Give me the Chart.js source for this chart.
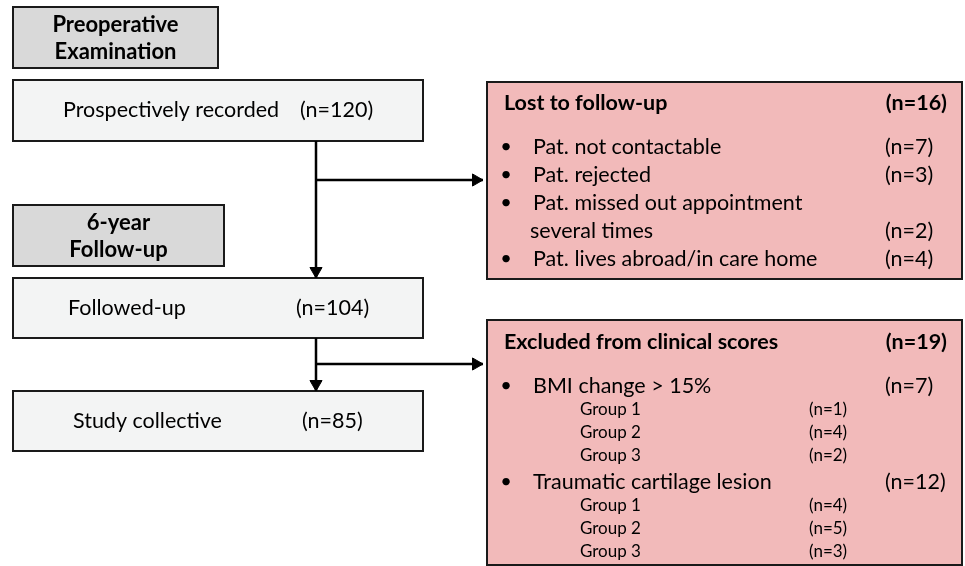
<!DOCTYPE html>
<html>
<head>
<meta charset="utf-8">
<script src="https://cdn.jsdelivr.net/npm/chart.js@4"></script>
<style>
  html, body { margin: 0; padding: 0; background: #ffffff; }
  canvas { display: block; }
</style>
</head>
<body>
<canvas id="flowChart" width="965" height="566"></canvas>
<script>
// Flowchart data
const phaseLabels = [["Preoperative", "Examination"], ["6-year", "Follow-up"]];
const stageLabels = ["Prospectively recorded", "Followed-up", "Study collective"];
const stageCounts = [120, 104, 85];

const lostTitle = "Lost to follow-up";
const lostTotal = 16;
const lostReasons = ["Pat. not contactable", "Pat. rejected", "Pat. missed out appointment|several times", "Pat. lives abroad/in care home"];
const lostCounts = [7, 3, 2, 4];

const excludedTitle = "Excluded from clinical scores";
const excludedTotal = 19;
const excludedReasons = ["BMI change > 15%", "Traumatic cartilage lesion"];
const excludedCounts = [7, 12];
const groupLabels = ["Group 1", "Group 2", "Group 3"];
const bmiGroupCounts = [1, 4, 2];
const traumaGroupCounts = [4, 5, 3];

const FONT = "Lato, 'Open Sans', sans-serif";
const ARROW_R = 7;

// Layout (in chart units, 1 unit = 1 px)
const stageBoxes = [[13, 80, 423, 141], [13, 278, 423, 338], [13, 391, 423, 451]];
const stageTextX = [[63, 300], [68, 296], [73, 302]];
const phaseBoxes = [[13, 7, 218, 68], [13, 205, 224, 266]];
const lostBox = [487, 82, 962, 279];
const excludedBox = [487, 320, 962, 565];

function n(v) { return "(n=" + v + ")"; }

// connectors: [from, to] with arrow at the end
const connectors = [
  [[316, 141], [316, 278]],
  [[316, 180], [483, 180]],
  [[316, 338], [316, 391]],
  [[316, 364], [483, 364]],
];

const lineSets = connectors.map(function (c) {
  return {
    type: "scatter",
    data: c.map(function (p) { return { x: p[0], y: p[1] }; }),
    showLine: true,
    borderColor: "#000000",
    borderWidth: 2.5,
    pointRadius: 0,
  };
});

// arrowheads, placed so the tip hits the end point
const arrowSet = {
  type: "scatter",
  data: connectors.map(function (c) {
    const a = c[0], b = c[1];
    if (a[0] === b[0]) return { x: b[0], y: b[1] - ARROW_R };
    return { x: b[0] - ARROW_R, y: b[1] };
  }),
  pointStyle: "triangle",
  pointRadius: ARROW_R,
  rotation: connectors.map(function (c) { return c[0][0] === c[1][0] ? 180 : 90; }),
  backgroundColor: "#000000",
  borderColor: "#000000",
  borderWidth: 1,
};

const boxPlugin = {
  id: "boxes",
  beforeDatasetsDraw: function (chart) {
    const ctx = chart.ctx;
    const sx = chart.scales.x, sy = chart.scales.y;
    function X(v) { return sx.getPixelForValue(v); }
    function Y(v) { return sy.getPixelForValue(v); }

    function box(b, fill) {
      ctx.save();
      ctx.fillStyle = fill;
      ctx.fillRect(X(b[0]), Y(b[1]), X(b[2]) - X(b[0]), Y(b[3]) - Y(b[1]));
      ctx.strokeStyle = "#1a1a1a";
      ctx.lineWidth = 2;
      ctx.strokeRect(X(b[0]), Y(b[1]), X(b[2]) - X(b[0]), Y(b[3]) - Y(b[1]));
      ctx.restore();
    }
    function text(t, x, y, size, bold, align) {
      ctx.save();
      ctx.font = (bold ? "bold " : "") + size + "px " + FONT;
      ctx.fillStyle = "#000000";
      ctx.textBaseline = "middle";
      ctx.textAlign = align || "left";
      ctx.fillText(t, X(x), Y(y));
      ctx.restore();
    }

    // phase header boxes
    phaseBoxes.forEach(function (b, i) {
      box(b, "#d9d9d9");
      const cx = (b[0] + b[2]) / 2;
      const cy = (b[1] + b[3]) / 2;
      text(phaseLabels[i][0], cx, cy - 13, 22, true, "center");
      text(phaseLabels[i][1], cx, cy + 14, 22, true, "center");
    });

    // main stages
    stageBoxes.forEach(function (b, i) {
      box(b, "#f3f4f4");
      const cy = (b[1] + b[3]) / 2;
      text(stageLabels[i], stageTextX[i][0], cy, 21.5, false);
      text(n(stageCounts[i]), stageTextX[i][1], cy, 21.5, false);
    });

    // lost to follow-up
    box(lostBox, "#f2baba");
    text(lostTitle, 504, 103, 21.5, true);
    text(n(lostTotal), 947, 103, 21.5, true, "right");
    let row = 147;
    lostReasons.forEach(function (r, i) {
      const parts = r.split("|");
      text("\u2022", 506, row, 20, false, "center");
      parts.forEach(function (p, j) {
        text(p, j === 0 ? 533 : 530, row, 21.5, false);
        if (j === parts.length - 1) text(n(lostCounts[i]), 885, row, 21.5, false);
        row += 28;
      });
    });

    // excluded from clinical scores
    box(excludedBox, "#f2baba");
    text(excludedTitle, 504, 342, 21.5, true);
    text(n(excludedTotal), 947, 342, 21.5, true, "right");
    const groupCounts = [bmiGroupCounts, traumaGroupCounts];
    row = 386;
    excludedReasons.forEach(function (r, i) {
      text("\u2022", 506, row, 20, false, "center");
      text(r, 533, row, 21.5, false);
      text(n(excludedCounts[i]), 885, row, 21.5, false);
      row += 24;
      groupLabels.forEach(function (g, k) {
        text(g, 580, row, 17, false);
        text(n(groupCounts[i][k]), 809, row, 17, false);
        row += 23;
      });
      row += 3;
    });
  },
};

new Chart(document.getElementById("flowChart"), {
  type: "scatter",
  data: { datasets: lineSets.concat([arrowSet]) },
  options: {
    responsive: false,
    animation: false,
    devicePixelRatio: 1,
    layout: { padding: 0, autoPadding: false },
    plugins: { legend: { display: false }, tooltip: { enabled: false } },
    scales: {
      x: { type: "linear", min: 0, max: 965, display: false },
      y: { type: "linear", min: 0, max: 566, reverse: true, display: false },
    },
  },
  plugins: [boxPlugin],
});
</script>
</body>
</html>
